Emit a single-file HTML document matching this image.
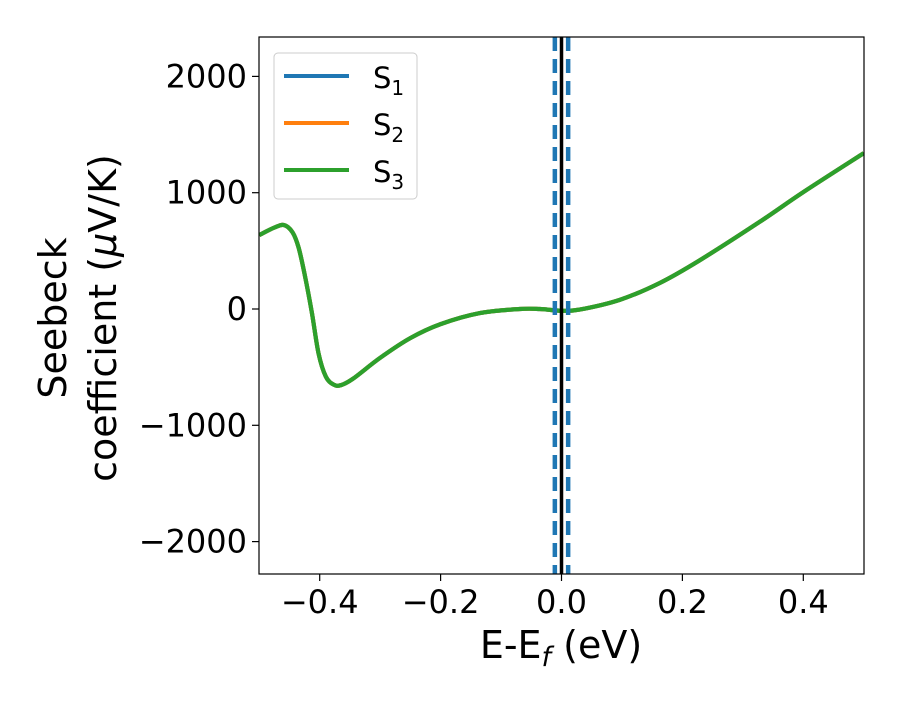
<!DOCTYPE html>
<html><head><meta charset="utf-8"><style>
body{margin:0;background:#fff}
svg text{font-family:"DejaVu Sans","Liberation Sans",sans-serif;fill:#000}
</style></head><body>
<svg id="chart" width="900" height="700" viewBox="0 0 900 700" xmlns="http://www.w3.org/2000/svg">
<defs><clipPath id="clip"><rect x="259" y="37" width="605" height="537"/></clipPath></defs>
<rect x="0" y="0" width="900" height="700" fill="#fff"/>
<g id="marks" clip-path="url(#clip)"></g>
<g id="axes"></g>
<rect x="259" y="37" width="605" height="537" fill="none" stroke="#000" stroke-width="1.2"/>
<g>
<rect x="274" y="53" width="143" height="146" rx="4" fill="#fff" fill-opacity="0.8" stroke="#ccc" stroke-width="1"/>
<line x1="284" y1="76" x2="349" y2="76" stroke="#1f77b4" stroke-width="4"/>
<text x="373" y="88" font-size="29">S<tspan font-size="20" dy="7">1</tspan></text>
<line x1="284" y1="123" x2="349" y2="123" stroke="#ff7f0e" stroke-width="4"/>
<text x="373" y="135" font-size="29">S<tspan font-size="20" dy="7">2</tspan></text>
<line x1="284" y1="170" x2="349" y2="170" stroke="#2ca02c" stroke-width="4"/>
<text x="373" y="182" font-size="29">S<tspan font-size="20" dy="7">3</tspan></text>
</g>
<text x="561" y="658" font-size="38" text-anchor="middle">E-E<tspan font-style="italic" font-size="27" dy="8">f</tspan><tspan dy="-8"> (eV)</tspan></text>
<text transform="translate(66,318) rotate(-90)" font-size="38" text-anchor="middle"><tspan x="0" dy="0">Seebeck</tspan><tspan x="0" dy="50">coefficient  (<tspan font-style="italic">μ</tspan>V/K)</tspan></text>
</svg>
<script>
const energies=[-0.5,-0.475,-0.459,-0.445,-0.435,-0.425,-0.413,-0.402,-0.39,-0.377,-0.365,-0.345,-0.3,-0.25,-0.2,-0.135,-0.069,-0.036,0,0.03,0.097,0.163,0.229,0.328,0.4,0.5];
const seebeck=[636,700,722,660,530,300,-30,-380,-580,-650,-655,-600,-420,-250,-130,-35,0,0,-15,-5,80,225,420,750,1005,1340];
const xTicks=[-0.4,-0.2,0.0,0.2,0.4];
const xTickLabels=["−0.4","−0.2","0.0","0.2","0.4"];
const yTicks=[-2000,-1000,0,1000,2000];
const yTickLabels=["−2000","−1000","0","1000","2000"];
const vlines=[-0.011,0.011];
const NS="http://www.w3.org/2000/svg";
const xS=v=>561.5+(v)*604.5;
const yS=v=>309-v*0.1163;
const marks=document.getElementById('marks'),axes=document.getElementById('axes');
function mk(tag,attrs,parent){const e=document.createElementNS(NS,tag);for(const k in attrs)e.setAttribute(k,attrs[k]);parent.appendChild(e);return e;}
function smooth(pts){let d=`M${pts[0][0]},${pts[0][1]}`;for(let i=0;i<pts.length-1;i++){const p0=pts[Math.max(i-1,0)],p1=pts[i],p2=pts[i+1],p3=pts[Math.min(i+2,pts.length-1)];
d+=` C${p1[0]+(p2[0]-p0[0])/6},${p1[1]+(p2[1]-p0[1])/6} ${p2[0]-(p3[0]-p1[0])/6},${p2[1]-(p3[1]-p1[1])/6} ${p2[0]},${p2[1]}`;}return d;}
const pts=energies.map((e,i)=>[xS(e),yS(seebeck[i])]);
const colors=[["#1f77b4","s1-curve"],["#ff7f0e","s2-curve"],["#2ca02c","s3-curve"]];
colors.forEach(c=>{const p=mk('path',{d:smooth(pts),fill:'none',stroke:c[0],'stroke-width':4.2,'stroke-linejoin':'round'},marks);

});
const fl=mk('line',{x1:xS(0),x2:xS(0),y1:37,y2:574,stroke:'#000','stroke-width':3.5},marks);


vlines.forEach((v,i)=>{const l=mk('line',{x1:xS(v),x2:xS(v),y1:37,y2:574,stroke:'#1f77b4','stroke-width':4.5,'stroke-dasharray':'14 8'},marks);

});
xTicks.forEach((v,i)=>{const x=xS(v);
const t=mk('line',{x1:x,x2:x,y1:574,y2:581,stroke:'#000','stroke-width':1.2},axes);


const tx=mk('text',{x:x,y:613,'font-size':32,'text-anchor':'middle'},axes);tx.textContent=xTickLabels[i];

});
yTicks.forEach((v,i)=>{const y=yS(v);
const t=mk('line',{x1:252,x2:259,y1:y,y2:y,stroke:'#000','stroke-width':1.2},axes);


const tx=mk('text',{x:247,y:y+11,'font-size':32,'text-anchor':'end'},axes);tx.textContent=yTickLabels[i];

});
</script>
</body></html>
